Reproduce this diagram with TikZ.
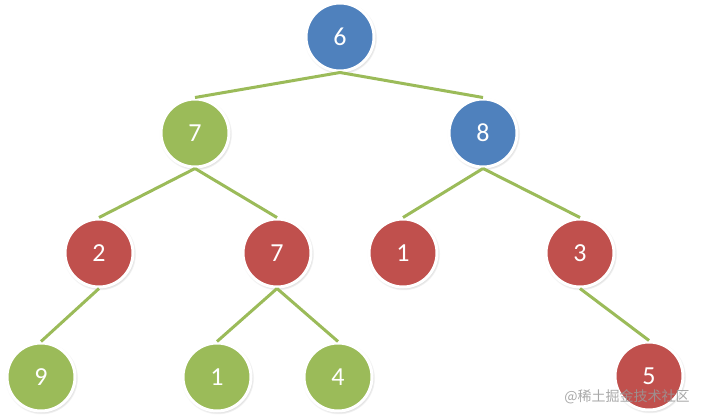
\documentclass[tikz,border=0pt]{standalone}
\usepackage{fontspec}
\setmainfont{Carlito}
\newfontfamily\cjk{Noto Sans CJK SC}
\usetikzlibrary{shadows}
\definecolor{nodeblue}{HTML}{4F81BD}
\definecolor{nodegreen}{HTML}{9BBB59}
\definecolor{nodered}{HTML}{C0504D}
\tikzset{
  heapnode/.style={circle,minimum size=68pt,inner sep=0pt,draw=white,line width=3pt,
    text=white,font=\fontsize{26}{26}\selectfont,
    circular drop shadow={shadow scale=1.07,shadow xshift=0.6pt,shadow yshift=-1pt,opacity=0.5}},
  heapedge/.style={nodegreen,line width=3pt}
}
\begin{document}
\begin{tikzpicture}[x=1pt,y=1pt]
\useasboundingbox (0,0) rectangle (706,-418);
% 第一、二层
\node[heapnode,fill=nodeblue] (n6) at (340,-37) {6};
\node[heapnode,fill=nodegreen] (n7a) at (195,-133) {7};
\node[heapnode,fill=nodeblue] (n8) at (483,-133) {8};
% 第三层
\node[heapnode,fill=nodered] (n2) at (99,-253) {2};
\node[heapnode,fill=nodered] (n7b) at (277,-253) {7};
\node[heapnode,fill=nodered] (n1a) at (403,-253) {1};
\node[heapnode,fill=nodered] (n3) at (580,-253) {3};
% 第四层
\node[heapnode,fill=nodegreen] (n9) at (41,-377) {9};
\node[heapnode,fill=nodegreen] (n1b) at (217,-377) {1};
\node[heapnode,fill=nodegreen] (n4) at (338,-377) {4};
\node[heapnode,fill=nodered] (n5) at (649,-376) {5};
% 连线
\draw[heapedge] (n6.south) -- (n7a.north);
\draw[heapedge] (n6.south) -- (n8.north);
\draw[heapedge] (n7a.south) -- (n2.north);
\draw[heapedge] (n7a.south) -- (n7b.north);
\draw[heapedge] (n8.south) -- (n1a.north);
\draw[heapedge] (n8.south) -- (n3.north);
\draw[heapedge] (n2.south) -- (n9.north);
\draw[heapedge] (n7b.south) -- (n1b.north);
\draw[heapedge] (n7b.south) -- (n4.north);
\draw[heapedge] (n3.south) -- (n5.north);
\node[font=\cjk\fontsize{14}{14}\selectfont,text=gray!80,opacity=0.85,inner sep=1pt] (mark) at (627,-397) {@稀土掘金技术社区};
\end{tikzpicture}
\end{document}
